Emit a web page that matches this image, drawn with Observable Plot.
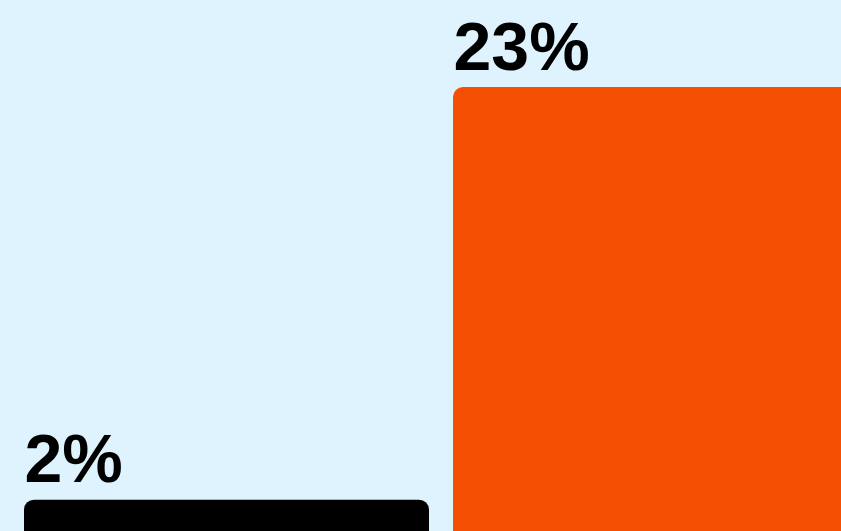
<!DOCTYPE html>
<html>
<head>
<meta charset="utf-8">
<script src="https://cdn.jsdelivr.net/npm/d3@7"></script>
<script src="https://cdn.jsdelivr.net/npm/@observablehq/plot@0.6"></script>
<style>
  html, body { margin: 0; padding: 0; background: #def3fe; overflow: hidden; }
  #chart svg { display: block; }
</style>
</head>
<body>
<div id="chart"></div>
<script>
const categories = ["A", "B"];
const values = [2, 23];
const labels = ["2%", "23%"];
const colors = ["#000000", "#f44f03"];

const data = categories.map((c, i) => ({cat: c, value: values[i], label: labels[i], color: colors[i]}));

const chart = Plot.plot({
  width: 841,
  height: 531,
  margin: 0,
  style: {background: "#def3fe", overflow: "hidden"},
  x: {domain: categories, range: [24, 858], paddingInner: 24 / 429, paddingOuter: 0, axis: null},
  y: {domain: [0, 23], range: [539, 87], axis: null},
  marks: [
    Plot.barY(data, {x: "cat", y: "value", fill: "color", rx: 10, insetBottom: -30}),
    Plot.text(data, {
      x: "cat", y: "value", text: "label",
      frameAnchor: "left", textAnchor: "start", lineAnchor: "bottom",
      dx: -202.5, dy: -18,
      fontFamily: "Liberation Sans, Arial, Helvetica, sans-serif",
      fontWeight: "bold", fontSize: 68, fill: "#000"
    })
  ]
});
document.getElementById("chart").appendChild(chart);
</script>
</body>
</html>
